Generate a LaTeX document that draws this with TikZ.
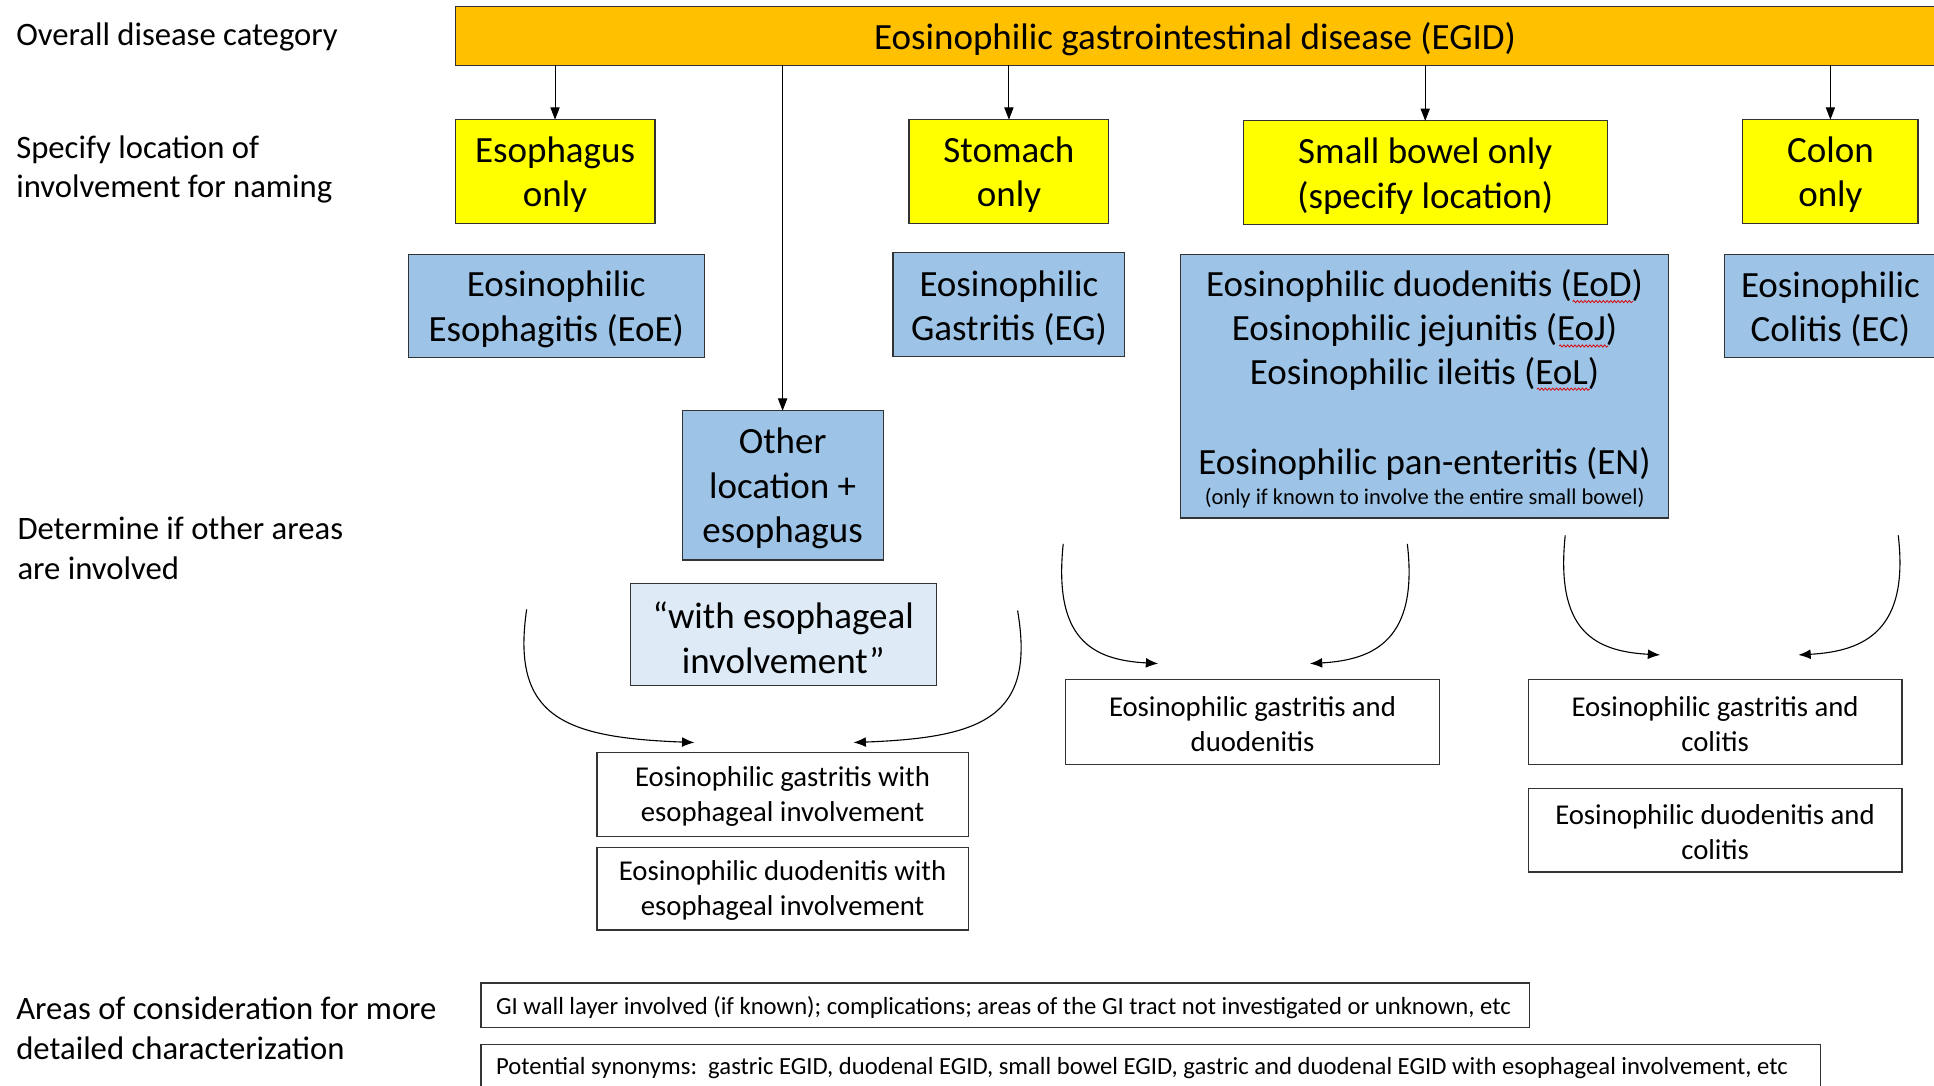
\documentclass[tikz,border=0pt]{standalone}
\usepackage{fontspec}
\setmainfont{Carlito}
\usetikzlibrary{arrows.meta,decorations.pathmorphing}
\definecolor{egidor}{HTML}{FFC000}
\definecolor{locyel}{HTML}{FFFF00}
\definecolor{dxblue}{HTML}{9DC3E6}
\definecolor{ltblue}{HTML}{DEEBF7}
\newcommand\bx[7]{%
  \node[#2, minimum width={#5-#3}, minimum height={#6-#4}] (#1) at ({(#3+#5)/2},{(#4+#6)/2}) {};
  \node[#2, draw=none, fill=none, minimum width=0pt, minimum height=0pt, tnode] (#1-t) at (#1.center) {#7};}
\begin{document}
\begin{tikzpicture}[x=1pt,y=-1pt,
  box/.style={draw=black!80, line width=0.9pt, inner sep=0pt, outer sep=0pt, align=center, tnode/.style={yshift=-2.7pt}},
  ybox/.style={box, fill=locyel, font=\fontsize{30}{36}\selectfont},
  bbox/.style={box, fill=dxblue, font=\fontsize{30}{36}\selectfont},
  wbox/.style={box, fill=white, font=\fontsize{23.3}{28}\selectfont, tnode/.style={yshift=-1.6pt}},
  lbl/.style={anchor=west, align=left, inner sep=0pt, font=\fontsize{26.5}{32}\selectfont},
  sbt/.style={inner sep=0pt, font=\fontsize{30}{36}\selectfont},
  nbox/.style={box, fill=white},
  ntxt/.style={anchor=west, inner sep=0pt, font=\fontsize{20}{24}\selectfont},
  arr/.style={-{Triangle[length=10pt,width=7.5pt]}, line width=0.8pt},
  carr/.style={-{Latex[length=10pt,width=8pt]}, line width=0.9pt},
  squig/.style={red!85!black, line width=0.6pt, decorate, decoration={snake, amplitude=0.9pt, segment length=3pt}}]
\useasboundingbox[fill=white] (0,0) rectangle (1568,880);

% left labels
\node[lbl] (l1) at (13,30) {Overall disease category};
\node[lbl] (l2) at (13,137.5) {Specify location of\\involvement for naming};
\node[lbl] (l3) at (14,444.5) {Determine if other areas\\are involved};
\node[lbl] (l4) at (13,833.5) {Areas of consideration for more\\detailed characterization};

% top category
\bx{egid}{box, fill=egidor, font=\fontsize{30}{36}\selectfont}{369}{5}{1569}{53}{Eosinophilic gastrointestinal disease (EGID)}

% locations
\bx{eso}{ybox}{369}{97}{531}{181}{Esophagus\\only}
\bx{sto}{ybox}{737}{97}{899}{181}{Stomach\\only}
\bx{sbo}{ybox}{1008}{98}{1303}{182}{Small bowel only\\(specify location)}
\bx{col}{ybox}{1413}{97}{1555}{181}{Colon\\only}

% diagnoses
\bx{eoe}{bbox}{331}{206}{571}{290}{Eosinophilic\\Esophagitis (EoE)}
\bx{eg}{bbox}{724}{205}{912}{289}{Eosinophilic\\Gastritis (EG)}
\bx{sbd}{bbox}{957}{206}{1353}{420}{}
\bx{ec}{bbox}{1398}{206}{1570}{290}{Eosinophilic\\Colitis (EC)}
\bx{oth}{bbox}{553}{333}{716}{454}{Other\\location +\\esophagus}
\bx{wei}{box, fill=ltblue, font=\fontsize{30}{36}\selectfont}{511}{473}{759}{556}{“with esophageal\\involvement”}

\node[sbt] (sb1) at (1155,232) {Eosinophilic duodenitis (EoD)};
\node[sbt] (sb2) at (1155,268) {Eosinophilic jejunitis (EoJ)};
\node[sbt] (sb3) at (1155,303) {Eosinophilic ileitis (EoL)};
\node[sbt] (sb4) at (1155,376) {Eosinophilic pan-enteritis (EN)};
\node[inner sep=0pt, font=\fontsize{18.25}{22}\selectfont] (sb5) at (1155,403.5) {(only if known to involve the entire small bowel)};
\draw[squig] (1275,244.5) -- (1324,244.5);
\draw[squig] (1264,280.5) -- (1304,280.5);
\draw[squig] (1246,315.5) -- (1289,315.5);

% combinations
\bx{gwe}{wbox}{484}{610}{785}{678}{Eosinophilic gastritis with\\esophageal involvement}
\bx{dwe}{wbox}{484}{687}{785}{754}{Eosinophilic duodenitis with\\esophageal involvement}
\bx{gad}{wbox}{864}{551}{1167}{620}{Eosinophilic gastritis and\\duodenitis}
\bx{gac}{wbox}{1239}{551}{1542}{620}{Eosinophilic gastritis and\\colitis}
\bx{dac}{wbox}{1239}{639}{1542}{707}{Eosinophilic duodenitis and\\colitis}

% notes
\node[nbox, minimum width=850pt, minimum height=36pt] (n1) at (815,815) {};
\node[ntxt] (n1t) at (402,817) {GI wall layer involved (if known); complications; areas of the GI tract not investigated or unknown, etc};
\node[nbox, minimum width=1086pt, minimum height=40pt] (n2) at (933,867) {};
\node[ntxt] (n2t) at (402,866) {Potential synonyms:\ \ gastric EGID, duodenal EGID, small bowel EGID, gastric and duodenal EGID with esophageal involvement, etc};

% straight arrows
\draw[arr] (egid.south -| eso.north) -- (eso.north);
\draw[arr] (egid.south -| oth.north) -- (oth.north);
\draw[arr] (egid.south -| sto.north) -- (sto.north);
\draw[arr] (egid.south -| sbo.north) -- (sbo.north);
\draw[arr] (egid.south -| col.north) -- (col.north);

% curved arrows
\coordinate (a1) at (427,494); \coordinate (a1e) at (563,602);
\coordinate (a2) at (825,495); \coordinate (a2e) at (692,602);
\coordinate (b1) at (862,441); \coordinate (b1e) at (939,538);
\coordinate (b2) at (1141,441); \coordinate (b2e) at (1062,538);
\coordinate (c1) at (1269,434); \coordinate (c1e) at (1346,531);
\coordinate (c2) at (1539,434); \coordinate (c2e) at (1458,531);
\draw[carr] (a1) .. controls (414,582) and (458,598) .. (a1e);
\draw[carr] (a2) .. controls (840,582) and (796,598) .. (a2e);
\draw[carr] (b1) .. controls (854,518) and (885,535) .. (b1e);
\draw[carr] (b2) .. controls (1150,518) and (1115,535) .. (b2e);
\draw[carr] (c1) .. controls (1261,511) and (1292,528) .. (c1e);
\draw[carr] (c2) .. controls (1548,511) and (1512,528) .. (c2e);
\end{tikzpicture}
\end{document}
